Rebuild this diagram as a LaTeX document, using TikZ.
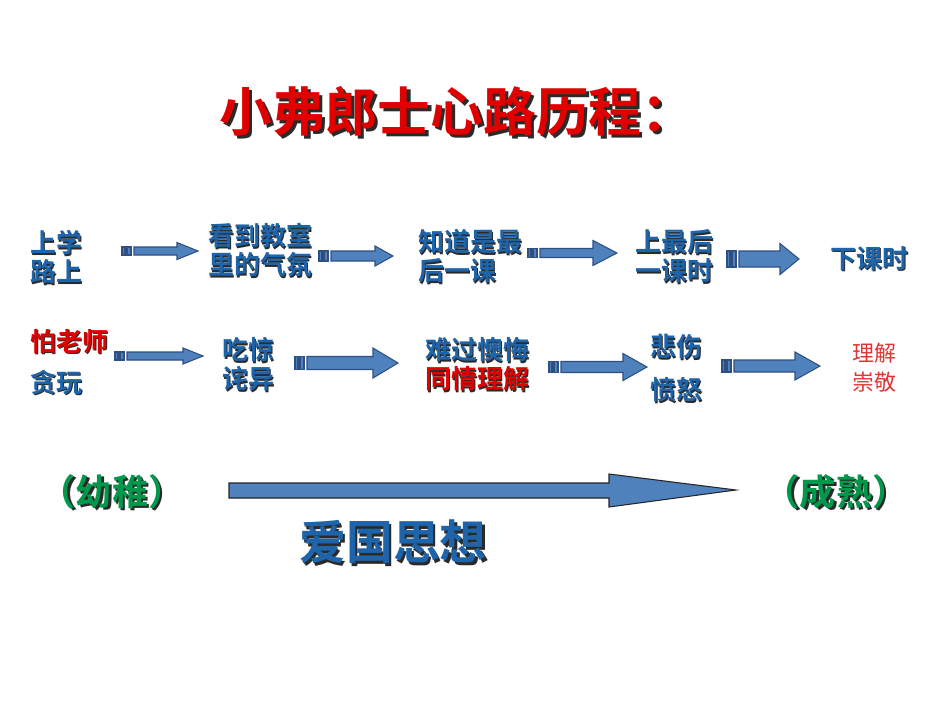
\documentclass[tikz,border=0pt]{standalone}
\usepackage{fontspec}
\setmainfont{Noto Sans CJK SC}[BoldFont={Noto Sans CJK SC Bold}]
\usetikzlibrary{positioning}
\definecolor{txtblue}{HTML}{1E64AA}
\definecolor{txtred}{HTML}{E00000}
\definecolor{txtgreen}{HTML}{00994C}
\definecolor{softred}{HTML}{E03535}
\definecolor{shadowgray}{HTML}{2A2A2A}
\definecolor{arrowfill}{HTML}{4F81BD}
\definecolor{arrowline}{HTML}{2F4F80}
\tikzset{
  steptext/.style={anchor=west, inner sep=0pt, align=left, text=txtblue,
    font=\bfseries\fontsize{14.8pt}{16.5pt}\selectfont},
  bigtext/.style={inner sep=0pt, font=\bfseries\fontsize{26.7pt}{30pt}\selectfont},
  agetext/.style={inner sep=0pt, text=txtgreen,
    font=\bfseries\fontsize{20.5pt}{24pt}\selectfont},
  blockarrow/.style={fill=arrowfill, draw=arrowline, line width=0.6pt, line join=miter}
}
% text with a dark drop shadow
\newcommand{\shd}[1]{\makebox[0pt][l]{\hspace{0.06em}\raisebox{-0.06em}{\color{shadowgray}#1}}#1}
% striped block arrow: x start, head start, tip, centre y, half shaft, half head
\newcommand{\stripedarrow}[6]{%
  \draw[blockarrow] (#1,{#4-#5}) rectangle ({#1+3},{#4+#5});
  \draw[blockarrow] ({#1+5},{#4-#5}) rectangle ({#1+9},{#4+#5});
  \draw[blockarrow] ({#1+12},{#4-#5}) -- (#2,{#4-#5}) -- (#2,{#4-#6})
    -- (#3,#4) -- (#2,{#4+#6}) -- (#2,{#4+#5}) -- ({#1+12},{#4+#5}) -- cycle;
}
\begin{document}
\begin{tikzpicture}[x=0.02cm, y=-0.02cm]
\useasboundingbox[fill=white] (0,0) rectangle (950,713);

% ── Title ───────────────────────────────────────────────
\node[bigtext, text=txtred, font=\bfseries\fontsize{30pt}{32pt}\selectfont]
  (title) at (457,113) {\shd{小弗郎士心路历程：}};

% ── Row 1: events ───────────────────────────────────────
\node[steptext] (road)   at (30,258)  {\shd{上学}\\\shd{路上}};
\node[steptext] (room)   at (208,251) {\shd{看到教室}\\\shd{里的气氛}};
\node[steptext] (know)   at (418,257) {\shd{知道是最}\\\shd{后一课}};
\node[steptext] (lesson) at (635,257) {\shd{上最后}\\\shd{一课时}};
\node[steptext] (after)  at (830,259) {\shd{下课时}};

\stripedarrow{122}{177}{198}{251}{4}{8.5}
\stripedarrow{319}{375}{393}{256}{5}{10}
\stripedarrow{528}{593}{617}{253}{4.5}{12.5}
\stripedarrow{727}{780}{799}{259}{8}{15.5}

% ── Row 2: feelings ─────────────────────────────────────
\node[steptext, text=txtred] (fear) at (30,342) {\shd{怕老师}};
\node[steptext] (play)   at (30,383)  {\shd{贪玩}};
\node[steptext] (shock)  at (222,365) {\shd{吃惊}\\\shd{诧异}};
\node[steptext] (regret) at (425,365) {\shd{难过懊悔}\\\color{txtred}\shd{同情理解}};
\node[steptext] (grief)  at (650,369) {\shd{悲伤}\\[8pt]\shd{愤怒}};
\node[steptext, text=softred, font=\fontsize{12.5pt}{16.5pt}\selectfont]
  (respect) at (852,368) {理解\\崇敬};

\stripedarrow{115}{183}{203}{356}{4}{8}
\stripedarrow{295}{373}{398}{363}{6.5}{15}
\stripedarrow{549}{623}{647}{367}{5.5}{13.5}
\stripedarrow{722}{795}{820}{366}{6}{14}

% ── Bottom: growth ──────────────────────────────────────
\node[agetext] (young)  at (112,493) {\shd{（幼稚）}};
\node[agetext] (mature) at (836,493) {\shd{（成熟）}};
\draw[blockarrow, draw=black!85] (229,483) -- (609,483) -- (609,474) -- (736,490)
  -- (609,507) -- (609,498) -- (229,498) -- cycle;
\node[bigtext, text=txtblue] (patriot) at (393,543) {\shd{爱国思想}};

\end{tikzpicture}
\end{document}
